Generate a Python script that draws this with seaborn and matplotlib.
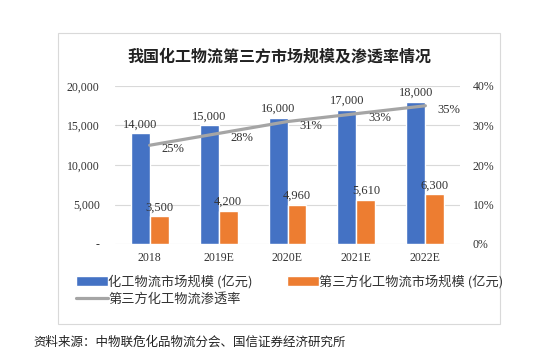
import seaborn as sns
import matplotlib.pyplot as plt
import matplotlib.ticker as mticker
from matplotlib.patches import Rectangle, Patch
from matplotlib.lines import Line2D
import pandas as pd

# chart data
years = ["2018", "2019E", "2020E", "2021E", "2022E"]
market_size = [14000, 15000, 16000, 17000, 18000]
third_party_size = [3500, 4200, 4960, 5610, 6300]
penetration = [0.25, 0.28, 0.31, 0.33, 0.35]

series_names = ["化工物流市场规模 (亿元)", "第三方化工物流市场规模 (亿元)"]
line_name = "第三方化工物流渗透率"
title = "我国化工物流第三方市场规模及渗透率情况"
source = "资料来源：中物联危化品物流分会、国信证券经济研究所"

sns.set_style("white")
plt.rcParams['font.family'] = ['Noto Sans CJK SC', 'DejaVu Sans']
serif = ['Liberation Serif', 'DejaVu Serif']

df = pd.DataFrame({
    'year': years * 2,
    'value': market_size + third_party_size,
    'series': [series_names[0]] * len(years) + [series_names[1]] * len(years),
})

fig = plt.figure(figsize=(5.47, 3.6), dpi=100)
ax = fig.add_axes([115 / 547, 1 - 244 / 360, 345 / 547, 158 / 360])

# outer frame
fig.patches.append(Rectangle((58 / 547, 1 - 324 / 360), 442 / 547, 291 / 360,
                             transform=fig.transFigure, fill=False,
                             edgecolor='#D9D9D9', linewidth=0.8))

sns.barplot(data=df, x='year', y='value', hue='series',
            palette=['#4472C4', '#ED7D31'], width=0.55, saturation=1,
            ax=ax, legend=False)

for cont in ax.containers:
    ax.bar_label(cont, labels=[f"{v:,.0f}" for v in cont.datavalues],
                 padding=2, fontsize=9, family=serif, color='#333333')

ax.set_ylim(0, 20000)
ax.set_yticks(range(0, 20001, 5000))
ax.yaxis.set_major_formatter(mticker.FuncFormatter(
    lambda v, p: "-" if v == 0 else f"{v:,.0f}"))
ax.grid(axis='y', color='#D9D9D9', linewidth=0.8)
ax.set_axisbelow(True)
sns.despine(ax=ax, left=True, bottom=True)
ax.set_xlabel("")
ax.set_ylabel("")
ax.tick_params(length=0, labelsize=8.5, colors='#333333', pad=6)
ax.tick_params(axis='y', pad=11)
for lab in ax.get_xticklabels() + ax.get_yticklabels():
    lab.set_family(serif)

ax2 = ax.twinx()
sns.lineplot(x=years, y=penetration, ax=ax2, color='#A5A5A5',
             linewidth=2.3, sort=False)
ax2.set_ylim(0, 0.4)
ax2.set_yticks([0, 0.1, 0.2, 0.3, 0.4])
ax2.yaxis.set_major_formatter(mticker.PercentFormatter(1.0, decimals=0))
ax2.tick_params(length=0, labelsize=8.5, colors='#333333', pad=9)
for lab in ax2.get_yticklabels():
    lab.set_family(serif)
for s in ax2.spines.values():
    s.set_visible(False)
ax2.set_ylabel("")

for i, p in enumerate(penetration):
    ax2.annotate(f"{p:.0%}", (i, p), xytext=(17, -3), textcoords='offset points',
                 ha='center', va='center', fontsize=9, family=serif,
                 color='#333333')

fig.text(279 / 547, 1 - 57 / 360, title, ha='center', va='center',
         fontsize=11.5, fontweight='bold', color='#222222')

# legend (column-major with ncol=2)
handles = [Patch(facecolor='#4472C4'),
           Line2D([0], [0], color='#A5A5A5', linewidth=2.3),
           Patch(facecolor='#ED7D31')]
labels = [series_names[0], line_name, series_names[1]]
fig.legend(handles, labels, loc='upper left', ncol=2,
           bbox_to_anchor=(64 / 547, 1 - 263 / 360), frameon=False,
           fontsize=9.5, handlelength=2.4, handleheight=0.7, handletextpad=0.05,
           columnspacing=2.6, labelspacing=0.3, labelcolor='#333333')

fig.text(33 / 547, 1 - 342 / 360, source, ha='left', va='center',
         fontsize=9, color='#222222')

fig.savefig('out.png', dpi=100)
